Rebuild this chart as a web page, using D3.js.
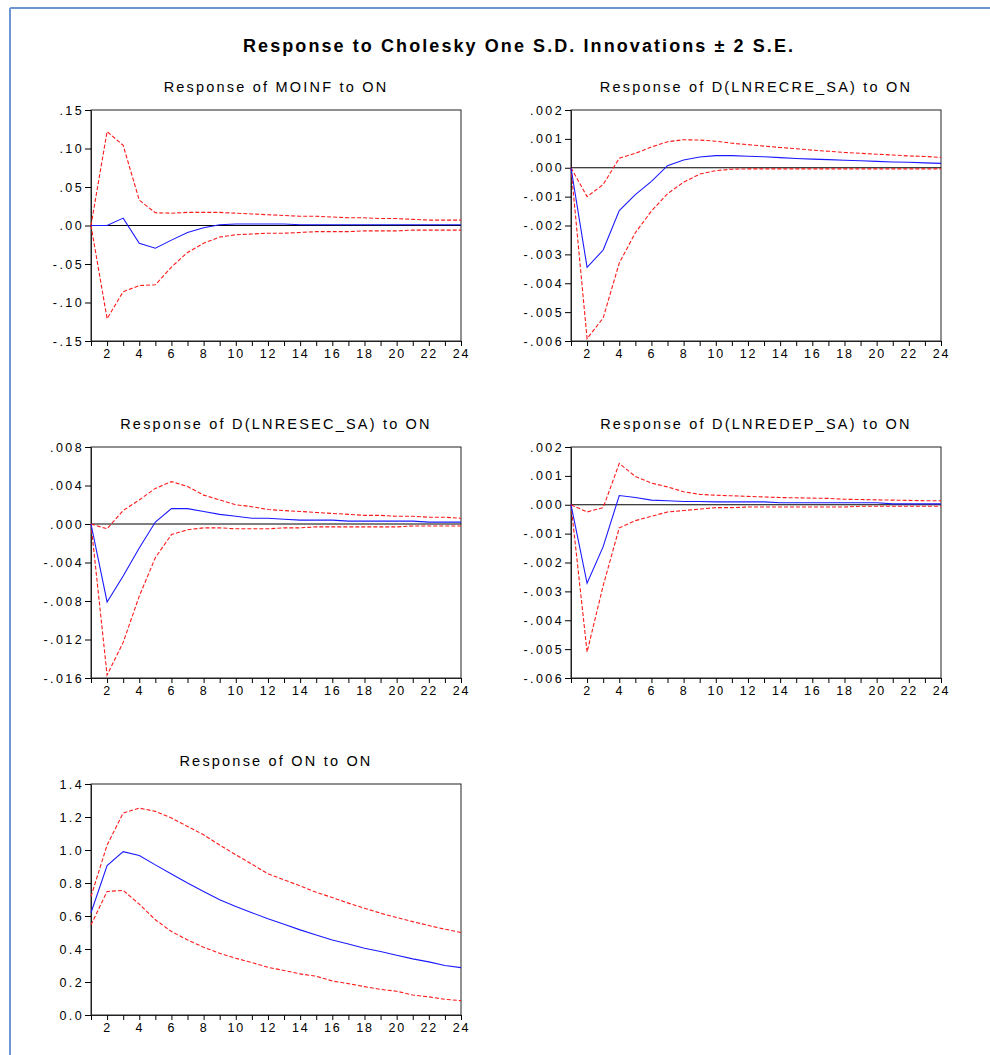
<!DOCTYPE html>
<html>
<head>
<meta charset="utf-8">
<script src="https://cdn.jsdelivr.net/npm/d3@7"></script>
<style>
  body { margin: 0; background: #fff; }
  svg { display: block; font-family: "Liberation Sans", Arial, sans-serif; }
  .tick text { font-size: 12.5px; letter-spacing: 1.8px; fill: #000; }
  .y.axis .tick text { letter-spacing: 2.4px; }
  .tick line { stroke: #000; }
</style>
</head>
<body>
<div id="chart"></div>
<script>
// periods 1..24
var periods = d3.range(1, 25);

var titles = [
    "Response of MOINF to ON",
    "Response of D(LNRECRE_SA) to ON",
    "Response of D(LNRESEC_SA) to ON",
    "Response of D(LNREDEP_SA) to ON",
    "Response of ON to ON"
];

// y tick values and labels per panel
var yTicks1 = [-.15, -.10, -.05, 0, .05, .10, .15];
var yLabels1 = ["-.15", "-.10", "-.05", ".00", ".05", ".10", ".15"];
var yTicks2 = [-.006, -.005, -.004, -.003, -.002, -.001, 0, .001, .002];
var yLabels2 = ["-.006", "-.005", "-.004", "-.003", "-.002", "-.001", ".000", ".001", ".002"];
var yTicks3 = [-.016, -.012, -.008, -.004, 0, .004, .008];
var yLabels3 = ["-.016", "-.012", "-.008", "-.004", ".000", ".004", ".008"];
var yTicks4 = [-.006, -.005, -.004, -.003, -.002, -.001, 0, .001, .002];
var yLabels4 = ["-.006", "-.005", "-.004", "-.003", "-.002", "-.001", ".000", ".001", ".002"];
var yTicks5 = [0, .2, .4, .6, .8, 1.0, 1.2, 1.4];
var yLabels5 = ["0.0", "0.2", "0.4", "0.6", "0.8", "1.0", "1.2", "1.4"];

// MOINF
var resp1 = [0, 0, .0096, -.023, -.0295, -.019, -.009, -.003, .001, .002, .002, .002, .002, .001, .001, .001, .001, .001, .001, .001, .001, .001, .001, .001];
var upper1 = [0, .122, .104, .033, .0165, .016, .017, .017, .017, .016, .015, .014, .013, .012, .012, .011, .010, .010, .009, .009, .008, .007, .007, .007];
var lower1 = [0, -.121, -.086, -.078, -.077, -.054, -.035, -.023, -.015, -.012, -.011, -.010, -.010, -.009, -.008, -.008, -.008, -.007, -.007, -.007, -.006, -.006, -.006, -.006];

// D(LNRECRE_SA)
var resp2 = [0, -.00345, -.00285, -.00148, -.00093, -.00047, .00007, .00027, .00037, .00042, .00042, .00040, .00038, .00035, .00032, .00030, .00028, .00026, .00024, .00022, .00020, .00019, .00017, .00015];
var upper2 = [0, -.00100, -.00058, .00033, .00050, .00072, .00090, .00097, .00096, .00092, .00085, .00080, .00075, .00070, .00066, .00061, .00057, .00053, .00050, .00047, .00044, .00041, .00039, .00036];
var lower2 = [0, -.00592, -.00520, -.00330, -.00225, -.00150, -.00090, -.00050, -.00022, -.00010, -.00005, -.00004, -.00004, -.00004, -.00004, -.00004, -.00004, -.00004, -.00004, -.00004, -.00004, -.00004, -.00004, -.00004];

// D(LNRESEC_SA)
var resp3 = [0, -.0081, -.0054, -.0025, .0002, .0016, .0016, .0013, .0010, .0008, .0006, .0006, .0005, .0004, .0004, .0004, .0003, .0003, .0003, .0003, .0003, .0002, .0002, .0002];
var upper3 = [0, -.0005, .0014, .0025, .0037, .0044, .0039, .0030, .0025, .0020, .0018, .0015, .0014, .0013, .0012, .0011, .0010, .0009, .0009, .0008, .0008, .0007, .0007, .0006];
var lower3 = [0, -.0157, -.0123, -.0075, -.0035, -.0011, -.0006, -.0004, -.0004, -.0005, -.0005, -.0005, -.0004, -.0004, -.0003, -.0003, -.0003, -.0003, -.0003, -.0003, -.0002, -.0002, -.0002, -.0002];

// D(LNREDEP_SA)
var resp4 = [0, -.00272, -.00145, .00032, .00025, .00016, .00014, .00011, .00011, .00010, .00010, .00010, .00010, .00007, .00007, .00007, .00007, .00007, .00007, .00007, .00003, .00003, .00003, .00003];
var upper4 = [0, -.00025, -.00010, .00143, .00098, .00075, .00062, .00045, .00036, .00033, .00031, .00029, .00027, .00025, .00024, .00023, .00022, .00019, .00018, .00017, .00016, .00015, .00014, .00014];
var lower4 = [0, -.0051, -.0028, -.0008, -.00055, -.00040, -.00025, -.00020, -.00015, -.00010, -.00010, -.00008, -.00008, -.00008, -.00008, -.00008, -.00008, -.00008, -.00005, -.00005, -.00005, -.00005, -.00005, -.00005];

// ON
var resp5 = [.62, .905, .99, .967, .91, .855, .80, .749, .698, .657, .62, .583, .55, .516, .485, .455, .43, .405, .385, .362, .34, .322, .30, .287];
var upper5 = [.718, 1.03, 1.224, 1.254, 1.234, 1.194, 1.143, 1.092, 1.03, .971, .914, .856, .819, .783, .744, .712, .678, .647, .617, .591, .566, .542, .52, .50];
var lower5 = [.546, .749, .755, .672, .577, .506, .455, .411, .374, .344, .318, .289, .27, .249, .235, .206, .19, .172, .155, .144, .121, .11, .095, .087];

var W = 990, H = 1055;

var svg = d3.select("#chart").append("svg")
    .attr("width", W)
    .attr("height", H);

// blue frame at top and left
svg.append("line").attr("x1", 10).attr("x2", W).attr("y1", 8).attr("y2", 8)
    .attr("stroke", "#6d97d3").attr("stroke-width", 2);
svg.append("line").attr("x1", 10).attr("x2", 10).attr("y1", 8).attr("y2", H)
    .attr("stroke", "#6d97d3").attr("stroke-width", 2);

svg.append("text")
    .attr("x", 518)
    .attr("y", 52)
    .attr("text-anchor", "middle")
    .attr("textLength", 550)
    .attr("lengthAdjust", "spacing")
    .style("font-size", "18px")
    .style("font-weight", "bold")
    .text("Response to Cholesky One S.D. Innovations \u00b1 2 S.E.");

var panels = [
    {x: 91, y: 110, title: titles[0], ticks: yTicks1, labels: yLabels1, resp: resp1, upper: upper1, lower: lower1, zero: true},
    {x: 571, y: 110, title: titles[1], ticks: yTicks2, labels: yLabels2, resp: resp2, upper: upper2, lower: lower2, zero: true},
    {x: 91, y: 447, title: titles[2], ticks: yTicks3, labels: yLabels3, resp: resp3, upper: upper3, lower: lower3, zero: true},
    {x: 571, y: 447, title: titles[3], ticks: yTicks4, labels: yLabels4, resp: resp4, upper: upper4, lower: lower4, zero: true},
    {x: 91, y: 784, title: titles[4], ticks: yTicks5, labels: yLabels5, resp: resp5, upper: upper5, lower: lower5, zero: false}
];

var pw = 370, ph = 231;

function createPanel(p) {
    var g = svg.append("g")
        .attr("transform", "translate(" + p.x + "," + p.y + ")");

    var x = d3.scaleLinear().domain([1, 24]).range([0, pw]);
    var y = d3.scaleLinear().domain(d3.extent(p.ticks)).range([ph, 0]);

    // title
    g.append("text")
        .attr("x", pw / 2)
        .attr("y", -18)
        .attr("text-anchor", "middle")
        .style("font-size", "14.5px")
        .style("letter-spacing", "2.2px")
        .text(p.title);

    // frame
    g.append("rect")
        .attr("width", pw)
        .attr("height", ph)
        .attr("fill", "none")
        .attr("stroke", "#222")
        .attr("stroke-width", 1);

    var xAxis = d3.axisBottom(x)
        .tickValues(periods)
        .tickSize(5)
        .tickSizeOuter(0)
        .tickPadding(3)
        .tickFormat(function(d) { return d % 2 == 0 ? d : ""; });

    var yAxis = d3.axisLeft(y)
        .tickValues(p.ticks)
        .tickSize(6)
        .tickSizeOuter(0)
        .tickPadding(1)
        .tickFormat(function(d, i) { return p.labels[i]; });

    g.append("g")
        .attr("class", "x axis")
        .attr("transform", "translate(0," + ph + ")")
        .call(xAxis)
        .select(".domain").attr("stroke", "#222");

    g.append("g")
        .attr("class", "y axis")
        .call(yAxis)
        .select(".domain").attr("stroke", "#222");

    if (p.zero) {
        g.append("line")
            .attr("x1", 0).attr("x2", pw)
            .attr("y1", y(0)).attr("y2", y(0))
            .attr("stroke", "#000");
    }

    var line = d3.line()
        .x(function(d, i) { return x(periods[i]); })
        .y(function(d) { return y(d); });

    g.append("path").datum(p.upper)
        .attr("d", line).attr("fill", "none")
        .attr("stroke", "#ff1a1a").attr("stroke-width", 1.1)
        .attr("stroke-dasharray", "4,2");

    g.append("path").datum(p.lower)
        .attr("d", line).attr("fill", "none")
        .attr("stroke", "#ff1a1a").attr("stroke-width", 1.1)
        .attr("stroke-dasharray", "4,2");

    g.append("path").datum(p.resp)
        .attr("d", line).attr("fill", "none")
        .attr("stroke", "#1a1aff").attr("stroke-width", 1.1);
}

panels.forEach(createPanel);
</script>
</body>
</html>
